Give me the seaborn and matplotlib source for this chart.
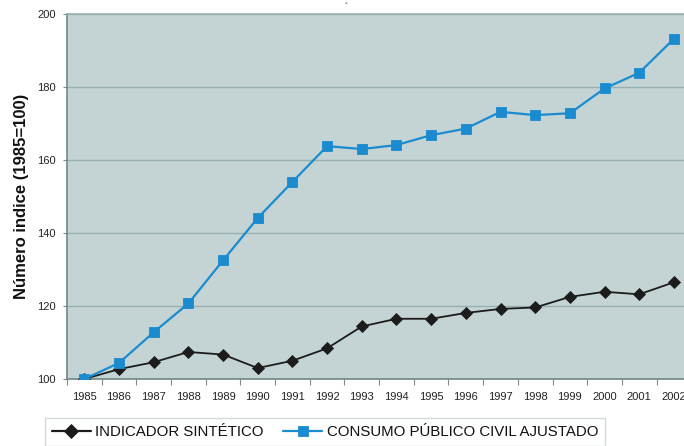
import matplotlib
matplotlib.use("Agg")
import matplotlib.pyplot as plt
import seaborn as sns
import pandas as pd
import numpy as np
from matplotlib.ticker import FixedLocator

years = ["1985", "1986", "1987", "1988", "1989", "1990", "1991", "1992", "1993",
         "1994", "1995", "1996", "1997", "1998", "1999", "2000", "2001", "2002"]
indicador = [100.0, 102.7, 104.6, 107.4, 106.7, 103.0, 105.0, 108.4, 114.4,
             116.5, 116.5, 118.1, 119.2, 119.6, 122.5, 123.9, 123.2, 126.5]
consumo = [100.0, 104.4, 112.8, 120.7, 132.5, 144.1, 154.0, 163.8, 163.0,
           164.1, 166.8, 168.6, 173.2, 172.3, 172.8, 179.6, 183.9, 193.2]
series_names = ["INDICADOR SINTÉTICO", "CONSUMO PÚBLICO CIVIL AJUSTADO"]
y_ticks = [100, 120, 140, 160, 180, 200]

sns.set_theme(style="white")
plt.rcParams["font.family"] = ["Liberation Sans", "DejaVu Sans"]

fig = plt.figure(figsize=(6.84, 4.46), dpi=100)
ax = fig.add_axes([67 / 684, 1 - 379 / 446, 1 - 67 / 684, (379 - 14) / 446])
ax.set_facecolor("#c4d4d4")

idx = np.arange(len(years))
df = pd.DataFrame({
    "x": np.concatenate([idx, idx]),
    "y": indicador + consumo,
    "serie": [series_names[0]] * len(years) + [series_names[1]] * len(years),
})

sns.lineplot(data=df, x="x", y="y", hue="serie", style="serie",
             palette={series_names[0]: "#1c1c1c", series_names[1]: "#1b8bcf"},
             markers={series_names[0]: "D", series_names[1]: "s"},
             dashes=False, markersize=7, linewidth=1.6,
             markeredgewidth=0.6, ax=ax, legend=True, zorder=3)
for line in ax.lines:
    c = line.get_color()
    line.set_markerfacecolor(c)
    line.set_markeredgecolor(c)
ax.lines[0].set_linewidth(1.3)
ax.lines[0].set_markersize(6.5)

ax.set_xlim(-0.5, (684 - 84) / 34.7)
ax.set_ylim(100, 200)
ax.set_xticks(idx)
ax.set_xticklabels(years, fontsize=8, color="#222222")
ax.xaxis.set_minor_locator(FixedLocator(np.arange(-0.5, len(years), 1.0)))
ax.tick_params(axis="x", which="major", length=0, pad=9)
ax.tick_params(axis="x", which="minor", length=4, width=0.8, color="#7a8a8a", direction="out", bottom=True)
ax.set_yticks(y_ticks)
ax.set_yticklabels([str(v) for v in y_ticks], fontsize=8, color="#222222")
ax.tick_params(axis="y", length=3, width=0.8, color="#7a8a8a", direction="out", left=True, pad=5)

ax.yaxis.grid(True, color="#98b0b2", linewidth=1.0)
ax.set_axisbelow(True)
for s in ["left", "bottom"]:
    ax.spines[s].set_color("#708888")
    ax.spines[s].set_linewidth(1.2)
ax.spines["top"].set_color("#98b0b2")
ax.spines["top"].set_linewidth(1.2)
ax.spines["right"].set_visible(False)

ax.set_xlabel("")
ax.set_ylabel("Número indice (1985=100)", fontsize=12, fontweight="bold", color="#111111", labelpad=6)

handles, labels = ax.get_legend_handles_labels()
ax.get_legend().remove()
leg = fig.legend(handles, labels, loc="upper left", bbox_to_anchor=(45 / 684, 1 - 418 / 446),
                 ncol=2, fontsize=10.8, frameon=True, fancybox=False, handlelength=2.6,
                 handletextpad=0.3, columnspacing=1.3, borderpad=0.45, borderaxespad=0)
leg.get_frame().set_edgecolor("#c8d0d0")
leg.get_frame().set_linewidth(1.0)
for t in leg.get_texts():
    t.set_color("#111111")

fig.text(346 / 684, 1 - 8 / 446, "´", fontsize=7, color="#111111", ha="center", va="center")

fig.savefig("out.png", dpi=100)
